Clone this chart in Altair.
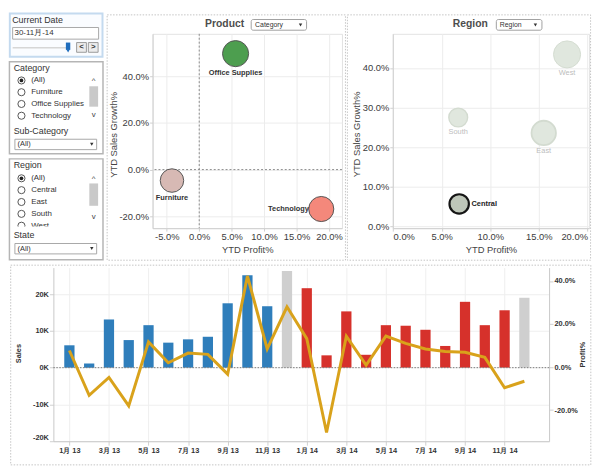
import altair as alt
import pandas as pd

FONT = "Liberation Sans"

# ------------------------------------------------------------------ data
categories = ["Furniture", "Office Supplies", "Technology"]
category_profit_pct = [-0.042, 0.056, 0.188]
category_sales_growth = [-0.047, 0.497, -0.169]
category_ytd_sales = [162, 200, 185]          # K, drives bubble size

regions = ["Central", "East", "South", "West"]
region_profit_pct = [0.068, 0.155, 0.067, 0.179]
region_sales_growth = [0.057, 0.236, 0.275, 0.434]
region_ytd_sales = [103, 163, 97, 200]        # K, drives bubble size
selected_region = "Central"

month_labels = ["1月 13", "2月 13", "3月 13", "4月 13", "5月 13", "6月 13",
                "7月 13", "8月 13", "9月 13", "10月 13", "11月 13", "12月 13",
                "1月 14", "2月 14", "3月 14", "4月 14", "5月 14", "6月 14",
                "7月 14", "8月 14", "9月 14", "10月 14", "11月 14", "12月 14"]
monthly_sales = [6080, 1150, 13100, 7500, 11550, 6800, 7700, 8400, 17500, 25100, 16700, 26300,
                 21600, 3350, 15300, 3500, 11550, 11400, 10300, 5900, 17900, 11550, 15600, 19000]
monthly_profit_pct = [0.077, -0.131, -0.048, -0.180, 0.117, 0.020, 0.065, 0.059, -0.033, 0.423, 0.084, 0.280,
                      0.132, -0.304, 0.143, 0.009, 0.144, 0.110, 0.084, 0.072, 0.069, 0.045, -0.096, -0.066]
bar_period = ["2013"] * 11 + ["Dec"] + ["2014"] * 11 + ["Dec"]
sales_ticks = [-20000, -10000, 0, 10000, 20000]
profit_ticks = [-0.2, 0.0, 0.2, 0.4]

filter_categories = ["(All)"] + categories
filter_regions = ["(All)"] + regions
current_date_text = "30-11月-14"

# ------------------------------------------------------------------ layout
W_F, W_P, W_R, W_B = 48.75, 192, 199, 502.5
H_TOP, H_B = 197, 176
COL_SP = 51.54
ORG = {"filter": (45.23, 21.655), "product": (145.52, 21.655),
       "region": (389.06, 21.655), "bottom": (45.23, 257.07)}


def ref_to_view(view):
    ox, oy = ORG[view]
    return (lambda rx: 0.99 * rx - 1 - ox), (lambda ry: 0.985 * ry - 1 - oy)


def frame_to_view(view):
    ox, oy = ORG[view]
    return (lambda x: x - ox), (lambda y: y - oy)


one = pd.DataFrame({"k": [0]})


def box(x1, y1, x2, y2, fill="white", stroke="#bbbbbb", sw=1.0, dash=None, radius=0):
    kw = dict(fill=fill, stroke=stroke, strokeWidth=sw)
    if dash:
        kw["strokeDash"] = dash
    if radius:
        kw["cornerRadius"] = radius
    return alt.Chart(one).mark_rect(**kw).encode(
        x=alt.value(x1), x2=alt.value(x2), y=alt.value(y1), y2=alt.value(y2))


def anchor(x1, y1, x2, y2):
    return alt.Chart(one).mark_rect(opacity=0).encode(
        x=alt.value(x1), x2=alt.value(x2), y=alt.value(y1), y2=alt.value(y2))


def text(s, x, y, size=8.0, weight="normal", color="#333333", align="left"):
    return alt.Chart(one).mark_text(
        text=s, align=align, baseline="middle", fontSize=size, fontWeight=weight,
        color=color, font=FONT).encode(x=alt.value(x), y=alt.value(y))


def sym(x, y, shape="circle", size=50, fill="white", stroke="#555555", sw=1.0):
    return alt.Chart(one).mark_point(
        shape=shape, size=size, filled=True, fill=fill, stroke=stroke,
        strokeWidth=sw, opacity=1).encode(x=alt.value(x), y=alt.value(y))


# ------------------------------------------------------------------ filter panel
F, G = ref_to_view("filter")
FA, GA = frame_to_view("filter")
fl = [anchor(FA(0), GA(0), FA(1), GA(253))]
fl.append(box(F(2.1), G(2.1), F(97), G(46.5), fill="#fafcff", stroke="#c4daef", sw=2))
fl.append(text("Current Date", F(4.5), G(8.5), size=9))
fl.append(box(F(5), G(16.5), F(93), G(28.5), fill="white", stroke="#a8a8a8"))
fl.append(text(current_date_text, F(7), G(22.5), size=8))
fl.append(box(F(5), G(36.6), F(62), G(38.2), fill="#d6d6d6", stroke="#d6d6d6", sw=0))
fl.append(box(F(59.5), G(32), F(64), G(39.5), fill="#1f6dbd", stroke="#1f6dbd", sw=0))
fl.append(sym(F(61.75), G(40.5), shape="triangle-down", size=14, fill="#1f6dbd", stroke="#1f6dbd", sw=0))
for a, b, s in [(70.5, 80.5, "<"), (82.5, 92.5, ">")]:
    fl.append(box(F(a), G(32), F(b), G(42), fill="#ececec", stroke="#9a9a9a"))
    fl.append(text(s, F((a + b) / 2), G(37), size=8, weight="bold", align="center"))


def list_panel(title, items, top, bottom, y0, step, thumb, down_y, sub_title, sub_y, clip_y=None):
    out = [box(F(1.7), G(top), F(97.5), G(bottom), fill="white", stroke="#b5b5b5", sw=1.5)]
    out.append(text(title, F(6), G(top + 6.5), size=9))
    for i, it in enumerate(items):
        y = y0 + i * step
        out.append(sym(F(14), G(y), size=52, fill="white", stroke="#555555"))
        if i == 0:
            out.append(sym(F(14), G(y), size=14, fill="#222222", stroke="#222222", sw=0))
        out.append(text(it, F(24), G(y), size=8))
    if clip_y is not None:
        out.append(box(F(6), G(clip_y), F(82), G(clip_y + 5), fill="white", stroke="white", sw=0))
    out.append(text("^", F(88), G(y0 + 1), size=8, color="#444444", align="center"))
    out.append(box(F(83.5), G(thumb[0]), F(92.5), G(thumb[1]), fill="#c9c9c9", stroke="#c9c9c9", sw=0))
    out.append(text("v", F(88), G(down_y), size=8, color="#444444", align="center"))
    out.append(text(sub_title, F(6), G(sub_y), size=9))
    out.append(box(F(7.3), G(sub_y + 8.8), F(91), G(sub_y + 19.5), fill="white", stroke="#a8a8a8"))
    out.append(text("(All)", F(10), G(sub_y + 14.2), size=7.5))
    out.append(sym(F(86), G(sub_y + 14), shape="triangle-down", size=12, fill="#333333", stroke="#333333", sw=0))
    return out


fl += list_panel("Category", filter_categories, 51.7, 146.5, 71, 12.1, (77, 98), 107,
                 "Sub-Category", 122.7)
fl += list_panel("Region", filter_regions, 151.7, 255.5, 171.7, 12.2, (177, 200), 212,
                 "State", 230, clip_y=221.3)
filter_chart = alt.layer(*fl).properties(width=W_F, height=H_TOP)

# ------------------------------------------------------------------ scatter helpers
AX = dict(labelFont=FONT, labelFontSize=9.5, labelColor="#3c3c3c", titleFont=FONT,
          titleFontSize=9.5, titleColor="#444444", titleFontWeight="normal",
          domainColor="#cfcfcf", tickColor="#cfcfcf", tickSize=3, labelPadding=1,
          gridColor="#ececec", labelOverlap=False)


def pct_expr():
    return "replace(format(datum.value, '.1%'), '\u2212', '-')"


# ------------------------------------------------------------------ product chart
P, Q = ref_to_view("product")
pdf = pd.DataFrame({"cat": categories, "profit": category_profit_pct,
                    "growth": category_sales_growth, "sales": category_ytd_sales})
zdf = pd.DataFrame({"profit": [0.0], "growth": [0.0]})
pX = alt.X("profit:Q", scale=alt.Scale(domain=[-0.0719, 0.2199], nice=False, zero=False),
           axis=alt.Axis(values=[-0.05, 0, 0.05, 0.1, 0.15, 0.2], labelExpr=pct_expr(), labelFlush=6,
                         title="YTD Profit%", titleX=W_P / 2, titleY=21.7, titleBaseline="middle", **AX))
pY = alt.Y("growth:Q", scale=alt.Scale(domain=[-0.251, 0.582], nice=False, zero=False),
           axis=alt.Axis(values=[-0.2, 0, 0.2, 0.4], labelExpr=pct_expr(), labelFlush=6,
                         title="YTD Sales Growth%", titleX=-39.6, titleY=102, titleAngle=270,
                         titleAlign="center", titleBaseline="middle", **AX))
pl = [box(P(101.5), Q(3.5), P(345.5), Q(256), fill="transparent", stroke="#c4c4c4", dash=[1.5, 1.5])]
pl.append(text("Product", P(221.8), Q(13.3), size=10.5, weight="bold", color="#4d4d4d", align="center"))
pl.append(box(P(249), Q(8.3), P(305.7), Q(19.3), fill="white", stroke="#a0a0a0", radius=2))
pl.append(text("Category", P(253), Q(14), size=7))
pl.append(sym(P(299.5), Q(14), shape="triangle-down", size=12, fill="#333333", stroke="#333333", sw=0))
pl.append(alt.Chart(zdf).mark_rule(color="#8a8a8a", strokeDash=[2, 2], strokeWidth=1).encode(x=pX))
pl.append(alt.Chart(zdf).mark_rule(color="#8a8a8a", strokeDash=[2, 2], strokeWidth=1).encode(y=pY))
pl.append(alt.Chart(pdf).mark_circle(opacity=1, stroke="#555555", strokeWidth=1).encode(
    x=pX, y=pY,
    size=alt.Size("sales:Q", scale=alt.Scale(domain=[0, 200], range=[0, 700]), legend=None),
    fill=alt.Fill("cat:N", scale=alt.Scale(domain=categories, range=["#D7B9B4", "#4D9E4F", "#F4887B"]),
                  legend=None)))
for name, dx, dy, align in [("Office Supplies", 0, 19.7, "center"), ("Furniture", 0, 17.4, "center"),
                            ("Technology", -12.5, 0, "right")]:
    pl.append(alt.Chart(pdf).transform_filter(alt.datum.cat == name).mark_text(
        dx=dx, dy=dy, align=align, baseline="middle", fontSize=7.5, fontWeight="bold",
        color="#333333", font=FONT).encode(x=pX, y=pY, text="cat:N"))
product_chart = alt.layer(*pl).properties(
    width=W_P, height=H_TOP, view=alt.ViewBackground(stroke="#e2e2e2", strokeWidth=1))

# ------------------------------------------------------------------ region chart
R, S = ref_to_view("region")
rdf = pd.DataFrame({"region": regions, "profit": region_profit_pct,
                    "growth": region_sales_growth, "sales": region_ytd_sales})
rX = alt.X("profit:Q", scale=alt.Scale(domain=[-0.0003, 0.2017], nice=False, zero=False),
           axis=alt.Axis(values=[0, 0.05, 0.1, 0.15, 0.2], labelExpr=pct_expr(), labelFlush=6,
                         title="YTD Profit%", titleX=W_R / 2, titleY=21.7, titleBaseline="middle", **AX))
rY = alt.Y("growth:Q", scale=alt.Scale(domain=[-0.004, 0.486], nice=False, zero=False),
           axis=alt.Axis(values=[0, 0.1, 0.2, 0.3, 0.4], labelExpr=pct_expr(), labelFlush=True,
                         title="YTD Sales Growth%", titleX=-37, titleY=101.5, titleAngle=270,
                         titleAlign="center", titleBaseline="middle", **AX))
others = [r for r in regions if r != selected_region]
rl = [box(R(347.5), S(3.5), R(596.5), S(256), fill="transparent", stroke="#c4c4c4", dash=[1.5, 1.5])]
rl.append(text("Region", R(473.3), S(13.3), size=10.5, weight="bold", color="#4d4d4d", align="center"))
rl.append(box(R(500), S(8.3), R(546.7), S(19.3), fill="white", stroke="#a0a0a0", radius=2))
rl.append(text("Region", R(503.5), S(14), size=7))
rl.append(sym(R(540), S(14), shape="triangle-down", size=12, fill="#333333", stroke="#333333", sw=0))
rl.append(alt.Chart(rdf).mark_circle(opacity=1).encode(
    x=rX, y=rY,
    size=alt.Size("sales:Q", scale=alt.Scale(domain=[0, 200], range=[0, 752]), legend=None),
    fill=alt.Fill("region:N", scale=alt.Scale(domain=[selected_region] + others,
                                              range=["#BEC6B9"] + ["#E0E7DE"] * len(others)), legend=None),
    stroke=alt.Stroke("region:N", scale=alt.Scale(domain=[selected_region] + others,
                                                  range=["#151515"] + ["#D3DBD0"] * len(others)), legend=None),
    strokeWidth=alt.StrokeWidth("region:N", scale=alt.Scale(domain=[selected_region] + others,
                                                            range=[2.2] + [1] * len(others)), legend=None)))
for name, dx, dy, align in [("West", 0, 18.7, "center"), ("South", 0, 14.8, "center"),
                            ("East", 0, 18, "center"), ("Central", 12.5, 0, "left")]:
    sel = name == selected_region
    rl.append(alt.Chart(rdf).transform_filter(alt.datum.region == name).mark_text(
        dx=dx, dy=dy, align=align, baseline="middle", fontSize=7.5,
        fontWeight="bold" if sel else "normal", color="#222222" if sel else "#bdbdbd",
        font=FONT).encode(x=rX, y=rY, text="region:N"))
region_chart = alt.layer(*rl).properties(
    width=W_R, height=H_TOP, view=alt.ViewBackground(stroke="#e2e2e2", strokeWidth=1))

# ------------------------------------------------------------------ bottom chart
B, C = ref_to_view("bottom")
BA, CA = frame_to_view("bottom")
bdf = pd.DataFrame({"idx": list(range(len(month_labels))), "sales": monthly_sales,
                    "profit": monthly_profit_pct, "period": bar_period})
label_js = "[" + ",".join("'%s'" % s for s in month_labels) + "][datum.value]"
BAX = dict(labelFont=FONT, labelFontSize=7.5, labelFontWeight="bold", labelColor="#333333",
           titleFont=FONT, titleFontSize=7.5, titleFontWeight="bold", titleColor="#333333",
           domainColor="#c8c8c8", tickColor="#cfcfcf", tickSize=4, labelPadding=1, labelFlush=6,
           labelOverlap=False)
bX = alt.X("idx:Q", scale=alt.Scale(domain=[-0.56, 24.0], nice=False, zero=False),
           axis=alt.Axis(values=list(range(0, 24, 2)), labelExpr=label_js, title=None, grid=True,
                         gridColor="#efefef", **BAX))
bY = alt.Y("sales:Q", scale=alt.Scale(domain=[-20000, 27200], nice=False, zero=False),
           axis=alt.Axis(values=sales_ticks, labelExpr="(datum.value / 1000) + 'K'", title="Sales",
                         orient="left", grid=True, gridColor="#efefef", titleX=-35.3, titleY=86.7,
                         titleAngle=270, titleAlign="center", titleBaseline="middle", **BAX))
bY2 = alt.Y("profit:Q", scale=alt.Scale(domain=[-0.3445, 0.462], nice=False, zero=False),
            axis=alt.Axis(values=profit_ticks, labelExpr=pct_expr(), title="Profit%", orient="right",
                          grid=False, titleX=34.3, titleY=87.7, titleAngle=270, titleAlign="center",
                          titleBaseline="middle", **BAX))
bars = alt.Chart(bdf).mark_bar(size=10.4).encode(
    x=bX, y=bY,
    color=alt.Color("period:N", scale=alt.Scale(domain=["2013", "2014", "Dec"],
                                                range=["#2F7EBB", "#D6312B", "#CFCFCF"]), legend=None))
zero_sales = alt.Chart(pd.DataFrame({"sales": [0]})).mark_rule(
    color="#7a7a7a", strokeDash=[1.5, 1.5], strokeWidth=1).encode(y=bY)
bborder = box(B(3), C(259.5), B(597), C(465), fill="transparent", stroke="#c4c4c4", dash=[1.5, 1.5])
banchor = anchor(BA(0), CA(254), BA(1), CA(458))
line = alt.Chart(bdf).mark_line(color="#D9A21B", strokeWidth=3).encode(x=bX, y=bY2)
bottom_chart = alt.layer(alt.layer(banchor, bborder, bars, zero_sales), line).resolve_scale(
    y="independent").properties(width=W_B, height=H_B)

# ------------------------------------------------------------------ dashboard
IND = dict(fill="independent", size="independent", stroke="independent",
           strokeWidth="independent", color="independent")
top_row = alt.hconcat(filter_chart, product_chart, region_chart,
                      spacing=COL_SP, bounds="flush").resolve_scale(**IND)
chart = alt.vconcat(top_row, bottom_chart, spacing=1).resolve_scale(**IND).properties(
    padding=0, background="white").configure_view(stroke="transparent")

chart.save("out.html", embed_options={"renderer": "svg", "actions": False})
